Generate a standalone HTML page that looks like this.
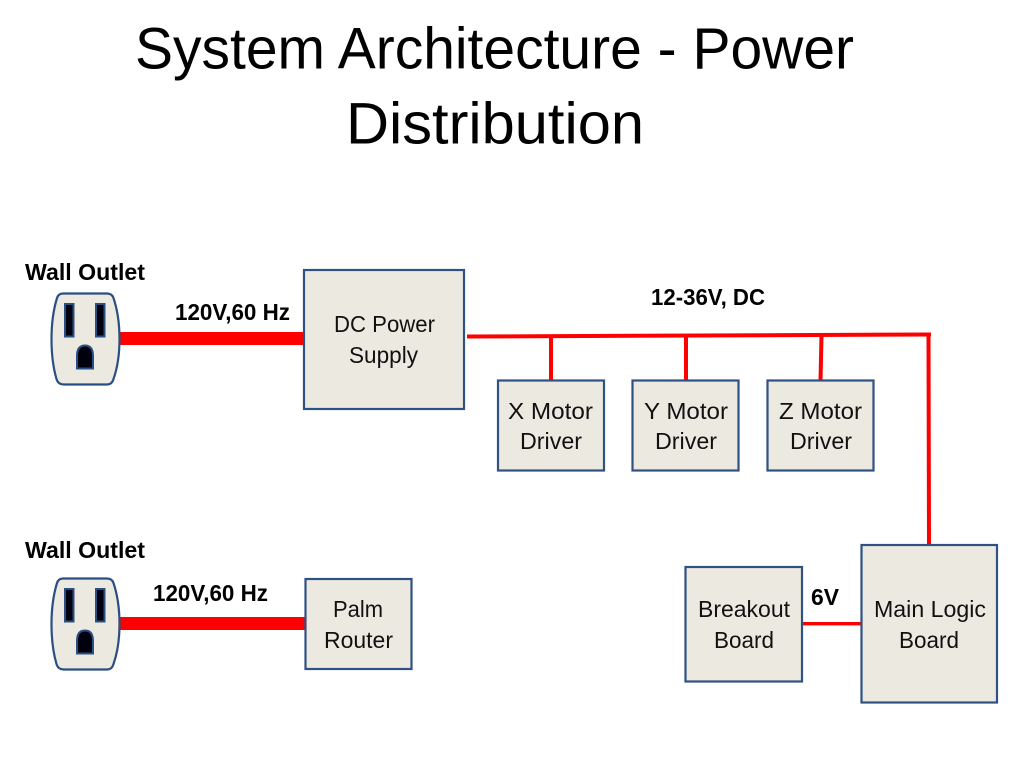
<!DOCTYPE html>
<html><head><meta charset="utf-8"><style>
html,body{margin:0;padding:0;background:#fff;width:1024px;height:768px;overflow:hidden}
svg{display:block}
text{font-family:"Liberation Sans",sans-serif;fill:#000}
.t{font-size:58px}
.b{font-size:23.5px;font-weight:bold}
.n{font-size:23.5px;fill:#111}
.box{fill:#ECE9E0;stroke:#2F5283;stroke-width:2.2}
.o{fill:#ECE9E0;stroke:#2A4F82;stroke-width:2.2}
.s{fill:#00000F;stroke:#2A4F82;stroke-width:2}
</style></head><body>
<svg width="1024" height="768" viewBox="0 0 1024 768" xmlns="http://www.w3.org/2000/svg">
<rect width="1024" height="768" fill="#fff"/>
<text class="t" x="135" y="68.500" textLength="719" lengthAdjust="spacingAndGlyphs">System Architecture - Power</text>
<text class="t" x="346" y="143.500" textLength="298" lengthAdjust="spacingAndGlyphs">Distribution</text>

<!-- red lines -->
<g fill="#FE0000">
<rect x="118" y="332" width="187" height="13"/>
<rect x="118" y="617" width="188" height="13"/>
<polygon points="467,334.500 931,332.500 931,336.500 467,338.500"/>
<rect x="549" y="336" width="4" height="45"/>
<rect x="684" y="336" width="4" height="45"/>
<polygon points="819.500,335 823.500,335 822.500,381 818.500,381"/>
<polygon points="926.500,335 930.500,335 931,546 927,546"/>
<rect x="802" y="622" width="60" height="3.400"/>
</g>

<!-- boxes -->
<rect class="box" x="304" y="270" width="160" height="139"/>
<rect class="box" x="498" y="380.500" width="106" height="90"/>
<rect class="box" x="632.500" y="380.500" width="106" height="90"/>
<rect class="box" x="767.500" y="380.500" width="106" height="90"/>
<rect class="box" x="305.500" y="579" width="106" height="90"/>
<rect class="box" x="685.500" y="567" width="116.500" height="114.500"/>
<rect class="box" x="861.500" y="545" width="135.500" height="157.500"/>

<!-- outlets -->
<g>
<path class="o" d="M63,293.500 H107 Q112,293.500 113.500,298 Q119.500,316 119.500,339 Q119.500,362 113.500,379 Q112,384.500 107,384.500 H64 Q58,384.500 56.500,379 Q51.500,362 51.500,339 Q51.500,316 57,298 Q58.500,293.500 63,293.500 Z"/>
<rect class="s" x="65" y="304" width="8.500" height="32.500"/>
<rect class="s" x="96" y="304" width="8.500" height="32.500"/>
<path class="s" d="M77,368.500 V356 Q77,345.500 85,345.500 Q93,345.500 93,356 V368.500 Z"/>
</g>
<g transform="translate(0,285)">
<path class="o" d="M63,293.500 H107 Q112,293.500 113.500,298 Q119.500,316 119.500,339 Q119.500,362 113.500,379 Q112,384.500 107,384.500 H64 Q58,384.500 56.500,379 Q51.500,362 51.500,339 Q51.500,316 57,298 Q58.500,293.500 63,293.500 Z"/>
<rect class="s" x="65" y="304" width="8.500" height="32.500"/>
<rect class="s" x="96" y="304" width="8.500" height="32.500"/>
<path class="s" d="M77,368.500 V356 Q77,345.500 85,345.500 Q93,345.500 93,356 V368.500 Z"/>
</g>

<!-- bold labels -->
<text class="b" x="25" y="280" textLength="120" lengthAdjust="spacingAndGlyphs">Wall Outlet</text>
<text class="b" x="25" y="558" textLength="120" lengthAdjust="spacingAndGlyphs">Wall Outlet</text>
<text class="b" x="175" y="320" textLength="115" lengthAdjust="spacingAndGlyphs">120V,60 Hz</text>
<text class="b" x="153" y="601" textLength="115" lengthAdjust="spacingAndGlyphs">120V,60 Hz</text>
<text class="b" x="651" y="305" textLength="114" lengthAdjust="spacingAndGlyphs">12-36V, DC</text>
<text class="b" x="811" y="605" textLength="28" lengthAdjust="spacingAndGlyphs">6V</text>

<!-- node labels -->
<text class="n" x="334" y="332" textLength="101" lengthAdjust="spacingAndGlyphs">DC Power</text>
<text class="n" x="349" y="363" textLength="69" lengthAdjust="spacingAndGlyphs">Supply</text>
<text class="n" x="508" y="419" textLength="85" lengthAdjust="spacingAndGlyphs">X Motor</text>
<text class="n" x="520" y="449" textLength="62" lengthAdjust="spacingAndGlyphs">Driver</text>
<text class="n" x="644" y="419" textLength="84" lengthAdjust="spacingAndGlyphs">Y Motor</text>
<text class="n" x="655" y="449" textLength="62" lengthAdjust="spacingAndGlyphs">Driver</text>
<text class="n" x="779" y="419" textLength="83" lengthAdjust="spacingAndGlyphs">Z Motor</text>
<text class="n" x="790" y="449" textLength="62" lengthAdjust="spacingAndGlyphs">Driver</text>
<text class="n" x="333" y="617" textLength="50" lengthAdjust="spacingAndGlyphs">Palm</text>
<text class="n" x="324" y="648" textLength="69" lengthAdjust="spacingAndGlyphs">Router</text>
<text class="n" x="698" y="617" textLength="92" lengthAdjust="spacingAndGlyphs">Breakout</text>
<text class="n" x="714" y="648" textLength="60" lengthAdjust="spacingAndGlyphs">Board</text>
<text class="n" x="874" y="617" textLength="112" lengthAdjust="spacingAndGlyphs">Main Logic</text>
<text class="n" x="899" y="648" textLength="60" lengthAdjust="spacingAndGlyphs">Board</text>
</svg>
</body></html>
